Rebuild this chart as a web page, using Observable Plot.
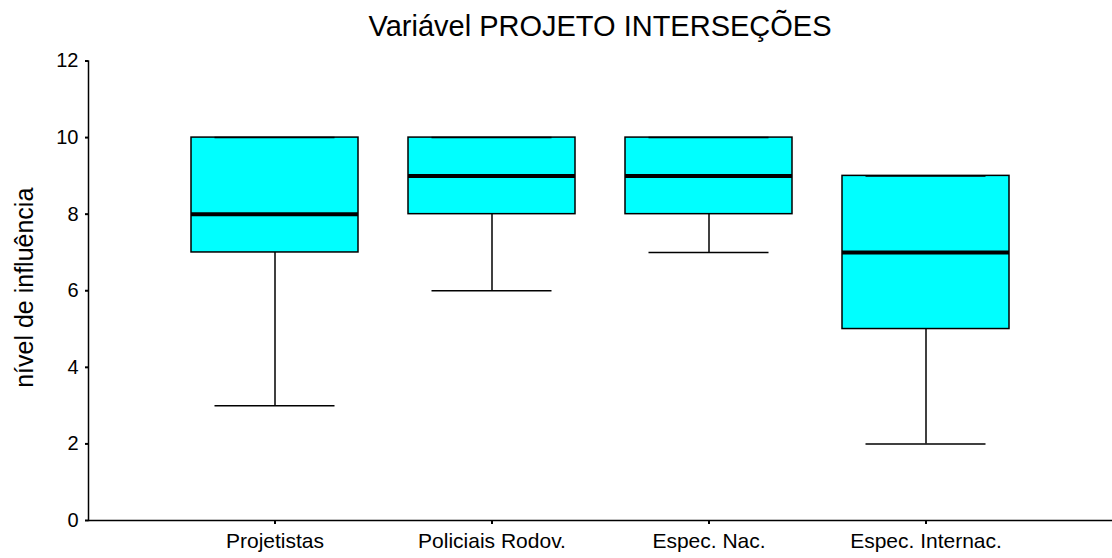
<!DOCTYPE html>
<html>
<head>
<meta charset="utf-8">
<script src="https://cdn.jsdelivr.net/npm/d3@7"></script>
<script src="https://cdn.jsdelivr.net/npm/@observablehq/plot@0.6"></script>
<style>
  body { margin: 0; background: #fff; font-family: "Liberation Sans", Arial, Helvetica, sans-serif; }
  #title { height: 50px; line-height: 52px; font-size: 29px; text-align: center; margin-left: 88px; width: 1024px; color: #000; white-space: nowrap; }
  svg { overflow: visible; display: block; }
</style>
</head>
<body>
<div id="title"></div>
<div id="chart"></div>
<script>
const titleText = "Variável PROJETO INTERSEÇÕES";
const yLabel = "nível de influência";
const categories = ["Projetistas", "Policiais Rodov.", "Espec. Nac.", "Espec. Internac."];
const whiskerLow = [3, 6, 7, 2];
const q1 = [7, 8, 8, 5];
const median = [8, 9, 9, 7];
const q3 = [10, 10, 10, 9];
const whiskerHigh = [10, 10, 10, 9];
const yTicks = [0, 2, 4, 6, 8, 10, 12];

const data = categories.map((c, i) => ({
  cat: c, lo: whiskerLow[i], q1: q1[i], med: median[i], q3: q3[i], hi: whiskerHigh[i]
}));

document.getElementById("title").textContent = titleText;

const chart = Plot.plot({
  width: 1112,
  height: 508,
  marginTop: 10.5,
  marginBottom: 38,
  marginLeft: 88,
  marginRight: 0,
  style: { fontFamily: "'Liberation Sans', Arial, Helvetica, sans-serif", background: "#fff", color: "#000", overflow: "visible" },
  x: { type: "band", domain: categories, paddingInner: 0.2316, paddingOuter: 0.4718, label: null },
  y: { domain: [0, 12], label: null },
  marks: [
    Plot.ruleX(data, { x: "cat", y1: "lo", y2: "q1", stroke: "#000", strokeWidth: 1.5 }),
    Plot.ruleX(data, { x: "cat", y1: "q3", y2: "hi", stroke: "#000", strokeWidth: 1.5 }),
    Plot.barY(data, { x: "cat", y1: "q1", y2: "q3", fill: "#00ffff", stroke: "#000", strokeWidth: 1.5 }),
    Plot.tickY(data, { x: "cat", y: "lo", inset: 23.5, stroke: "#000", strokeWidth: 1.5 }),
    Plot.tickY(data, { x: "cat", y: "hi", inset: 23.5, stroke: "#000", strokeWidth: 1.5 }),
    Plot.tickY(data, { x: "cat", y: "med", stroke: "#000", strokeWidth: 4 }),
    Plot.ruleY([0], { stroke: "#000", strokeWidth: 1.5 }),
    Plot.frame({ anchor: "left", stroke: "#000", strokeWidth: 1.5 }),
    Plot.axisY({ ticks: yTicks, tickSize: 3, tickPadding: 7, fontSize: 20, strokeWidth: 2, label: null }),
    Plot.axisX({ tickSize: 4, tickPadding: 9, fontSize: 21, strokeWidth: 2, label: null }),
    Plot.text([yLabel], { frameAnchor: "left", textAnchor: "middle", dx: -64, dy: -3, rotate: -90, fontSize: 25, fill: "#000" })
  ]
});
document.getElementById("chart").appendChild(chart);
</script>
</body>
</html>
